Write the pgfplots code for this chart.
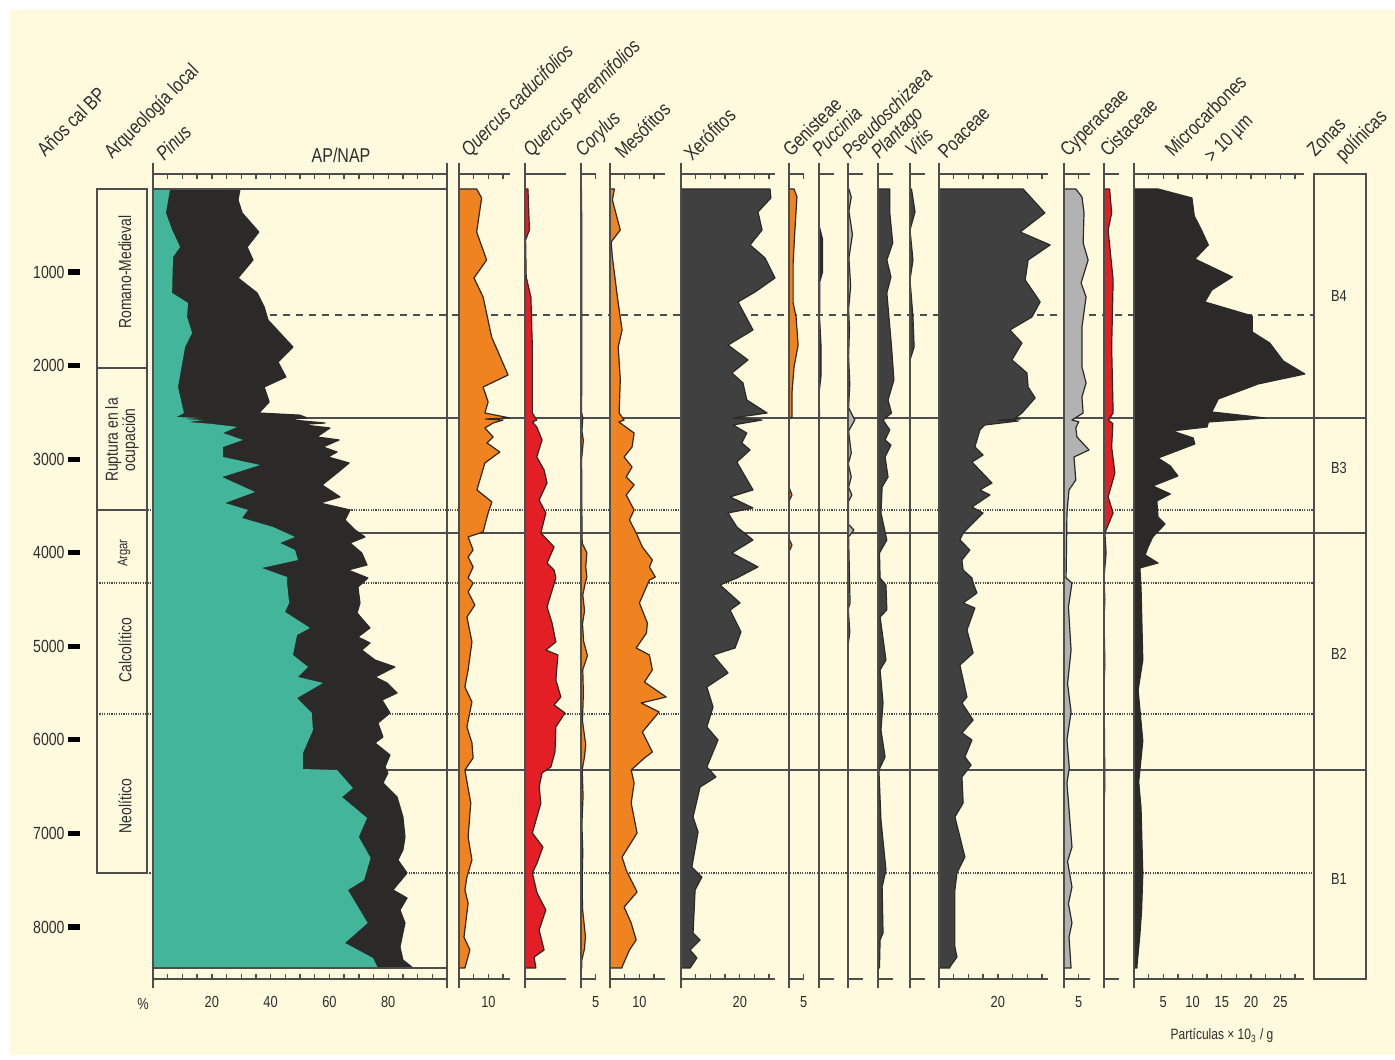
\documentclass[border=0pt]{standalone}
\usepackage{pgfplots}
\pgfplotsset{compat=1.18}
\usepackage{fontspec}
\setmainfont{Liberation Sans}[FakeStretch=0.8]
\newcommand\fs[1]{\fontsize{#1}{#1}\selectfont}
\definecolor{cream}{RGB}{255,250,221}
\definecolor{pgreen}{RGB}{67,181,154}
\definecolor{apblack}{RGB}{43,42,40}
\definecolor{porange}{RGB}{238,131,32}
\definecolor{pred}{RGB}{227,30,36}
\definecolor{dgrey}{RGB}{64,64,64}
\definecolor{lgrey}{RGB}{178,178,178}
\definecolor{lnc}{RGB}{77,77,77}
\definecolor{txt}{RGB}{45,45,45}
\pgfplotsset{
  panel/.style={
    scale only axis, height=402.5pt, anchor=north west,
    y dir=reverse, ymin=-47, ymax=8556, xmin=0,
    axis x line=box, axis y line=none,
    x axis line style={lnc, line width=0.8pt, -},
    tick align=inside, major tick length=0pt, minor tick length=2.5pt,
    tick style={lnc, line width=0.7pt},
    ytick=\empty, xtick=\empty,
    xticklabel pos=lower,
    ticklabel style={font=\fs{8}, text=txt},
    xticklabel style={anchor=center, yshift=-11.5pt},
    /pgf/number format/assume math mode=true,
    clip=false,
  },
  fl/.style={fill=#1, draw=apblack, line width=0.6pt, line join=round},
}
\begin{document}
\begin{tikzpicture}
\begin{scope}[x=0.5pt,y=-0.5pt]
\useasboundingbox (0,0) rectangle (1395,1059);
\fill[white] (0,0) rectangle (1395,1059);
\fill[cream] (10,10) rectangle (1395,1055);
% zone lines
\draw[lnc, line width=0.8pt] (153,418) -- (1366,418) (153,533) -- (1366,533) (153,770) -- (1366,770);
\draw[lnc, line width=0.8pt, dash pattern=on 3.5pt off 3pt] (153,315) -- (1314,315);
\draw[lnc, line width=0.7pt, dash pattern=on 0.6pt off 0.6pt] (97,510) -- (1314,510) (97,583) -- (1314,583) (97,714) -- (1314,714) (147,873) -- (1314,873);
\end{scope}

% ---------- age axis ----------
\begin{axis}[at={(40pt,-87pt)}, anchor=north west, scale only axis, width=1pt, height=402.5pt,
  y dir=reverse, ymin=-47, ymax=8556, xmin=0, xmax=1,
  hide x axis, axis y line*=left, y axis line style={draw=none},
  ytick={1000,2000,...,8000}, tick align=outside, major tick length=6pt,
  ytick style={line width=2.6pt, black},
  yticklabel style={font=\fs{8.8}, text=txt, xshift=1.8pt},
  /pgf/number format/1000 sep={}, /pgf/number format/assume math mode=true]
\addplot[draw=none] coordinates {(0,1000) (0,8000)};
\end{axis}

% ---------- Pinus + AP/NAP ----------
\begin{axis}[panel, at={(76.5pt,-87pt)}, width=147pt, xmax=100,
  xtick={20,40,60,80}, minor xtick={0,5,...,100}]
\addplot[fl=apblack] coordinates {(0,113) (29.6,113) (28.9,230) (30.3,369) (36,573) (32,733) (34,872) (28.9,1064) (35.4,1224) (37.8,1374) (39.1,1513) (47.6,1802) (42.5,1962) (45.2,2122) (37.8,2229) (39.5,2389) (36,2507) (50,2530) (52.4,2560) (45,2575) (58.5,2614) (50,2630) (60.2,2667) (55.7,2763) (63.3,2795) (57.8,2870) (62.6,2924) (59.5,2977) (66.7,3041) (62.6,3148) (57.5,3276) (63.6,3404) (56.8,3469) (67,3543) (65.3,3650) (68.7,3757) (72.1,3832) (67,3896) (71,4003) (72.8,4131) (66.3,4185) (73.1,4270) (69.7,4366) (70.4,4537) (69.4,4644) (73.8,4804) (69.7,4901) (73.8,4965) (71,5040) (75.5,5147) (82.3,5221) (75.5,5328) (79.6,5392) (83,5499) (77.9,5574) (80.6,5713) (76.5,5820) (78.2,5969) (75.5,6033) (80.6,6162) (78.9,6290) (79.9,6354) (78.2,6461) (83,6611) (85,6824) (85.7,7038) (85,7177) (83.3,7284) (86.4,7423) (81.6,7604) (86.4,7690) (84,7818) (85.7,7957) (84,8213) (85,8352) (88.4,8438) (0,8438)};
\addplot[fill=pgreen, draw=none] coordinates {(0,113) (5.8,113) (4.4,369) (6.5,551) (9.2,733) (6.8,840) (6.5,1224) (11.9,1331) (11.6,1481) (13.3,1652) (10.9,1802) (8.5,2229) (10.5,2507) (8,2550) (16,2560) (10,2571) (17,2582) (12,2603) (20,2624) (28.6,2656) (23.8,2721) (30.6,2795) (23.8,2870) (23.8,2977) (36.4,3063) (23.5,3191) (34.7,3351) (24.5,3469) (32.3,3543) (30.3,3629) (40.8,3725) (48.3,3832) (43.2,3896) (48.3,3971) (49.3,4078) (37,4163) (45.6,4260) (45.6,4324) (46.3,4537) (44.9,4633) (53.4,4804) (49,4879) (47.6,5093) (52.7,5221) (49.3,5328) (57.8,5392) (49,5553) (54,5713) (54.4,5895) (51,6141) (51,6312) (62.6,6322) (68,6515) (64.3,6611) (72.8,6835) (70,7038) (74,7262) (71.8,7498) (66.3,7604) (73,7957) (65.3,8171) (74.8,8331) (76.5,8438) (0,8438)};
\end{axis}

% ---------- Quercus caducifolios ----------
\begin{axis}[panel, at={(229.5pt,-87pt)}, width=25.5pt, xmax=17.35, xtick={10}, minor xtick={0,5,10,15}]
\addplot[fl=porange] coordinates {(0,113) (6,113) (7.7,209) (6,573) (9.4,872) (5.1,1064) (8.2,1267) (11.1,1695) (16.7,2101) (8.2,2229) (9.9,2389) (8.8,2507) (17.3,2560) (9,2571) (15,2582) (11.6,2614) (8.8,2667) (11.6,2763) (9.5,2827) (13.9,2924) (8.8,3041) (6.1,3329) (11.2,3458) (9.9,3575) (8.2,3778) (3.1,3832) (4.8,3971) (3.1,4046) (4.8,4152) (3.1,4270) (4.8,4324) (3.1,4420) (5.4,4559) (2.7,4687) (4.4,4954) (3.1,5253) (2,5435) (4.4,5595) (2.7,5862) (4.4,6033) (4.8,6194) (2,6322) (4,6675) (3.1,7038) (4.4,7284) (2.7,7466) (2,7604) (3.1,7744) (1.7,8107) (3.7,8246) (2,8438) (0,8438)};
\end{axis}

% ---------- Quercus perennifolios ----------
\begin{axis}[panel, at={(262.5pt,-87pt)}, width=20.5pt, xmax=13.95, minor xtick={0,5,10}]
\addplot[fl=pred] coordinates {(0,113) (1,113) (1.5,551) (0.2,658) (0.4,1053) (2,1267) (2.5,1802) (2.5,2507) (4,2582) (2.5,2603) (4,2656) (5.8,2795) (4,2977) (6.5,3116) (7.5,3255) (4.8,3437) (7.1,3575) (5.4,3789) (9.9,3939) (7.5,4110) (9.9,4185) (10.5,4270) (7.5,4580) (9.2,4751) (10.5,4954) (7.1,5040) (11.2,5093) (10.5,5360) (12.2,5542) (9.9,5627) (13.6,5713) (10.5,5862) (10.2,6130) (8.8,6290) (5.8,6354) (4.8,6504) (5.4,6675) (2.5,6996) (6.1,7145) (4.1,7316) (2.5,7423) (4.1,7636) (7.1,7818) (4.8,8032) (6.5,8246) (3.1,8321) (3.7,8438) (0,8438)};
\end{axis}

% ---------- Corylus ----------
\begin{axis}[panel, at={(290.5pt,-87pt)}, width=7.5pt, xmax=5.1, xtick={5}, minor xtick={0,5}]
\addplot[fl=porange] coordinates {(0,113) (0.2,113) (0.3,1500) (0.2,2500) (0.6,2560) (0.3,2700) (0.8,2800) (0.2,3000) (0.3,3600) (0.4,3900) (2,4000) (1.6,4150) (2,4260) (1.4,4330) (0.6,4450) (1.2,4620) (0.5,4760) (0.9,4950) (2.2,5100) (0.6,5250) (0.8,5500) (0.5,5800) (1.6,6050) (1.2,6180) (0.4,6320) (0.7,6600) (0.3,6900) (0.6,7200) (0.4,7500) (0.5,7800) (1.5,8100) (1.2,8230) (0.3,8350) (0.3,8438) (0,8438)};
\end{axis}

% ---------- Mesofitos ----------
\begin{axis}[panel, at={(305pt,-87pt)}, width=27.5pt, xmax=18.7, xtick={10}, minor xtick={0,5,10,15}]
\addplot[fl=porange] coordinates {(0,113) (1.5,113) (0.8,230) (3.5,551) (0.4,679) (0.8,840) (2.5,1267) (4.1,1620) (2.8,1802) (3.5,2154) (3.1,2507) (4.8,2582) (3,2603) (8.2,2721) (7.5,2870) (4.8,2977) (7.5,3084) (5.5,3191) (8.2,3276) (5.5,3383) (8.2,3543) (6.6,3650) (8.9,3789) (11,3939) (14.4,4078) (13.4,4152) (15.4,4260) (13.4,4292) (10,4537) (12.7,4751) (12.4,4858) (8.9,5018) (13.4,5093) (14.4,5253) (11.7,5382) (19.1,5542) (10.6,5606) (16.7,5702) (11,5916) (14.4,6130) (11.7,6194) (7.2,6322) (8.2,6461) (7.2,6675) (9.2,6996) (4.1,7252) (5.5,7391) (9.2,7626) (4.8,7786) (7.2,7957) (8.9,8139) (6.6,8246) (4.1,8427) (4.1,8438) (0,8438)};
\end{axis}

% ---------- Xerofitos ----------
\begin{axis}[panel, at={(340.5pt,-87pt)}, width=47pt, xmax=32, xtick={20}, minor xtick={0,5,...,30}]
\addplot[fl=dgrey] coordinates {(0,113) (30.3,113) (30.6,209) (26.2,358) (27.6,551) (23.5,711) (28.6,850) (32,1064) (25.2,1214) (19.4,1320) (24.5,1620) (16,1781) (22.8,1940) (17.3,2079) (21.1,2186) (22.4,2368) (29.3,2507) (17.7,2560) (27.6,2582) (17.7,2635) (22.4,2721) (20.7,2827) (23.5,2902) (19,3031) (24.5,3329) (16.7,3404) (24.5,3522) (16,3575) (19,3725) (24.5,3864) (17.3,4003) (26.2,4152) (19,4270) (13.3,4345) (20.1,4537) (16.7,4612) (20.4,4847) (18.4,5018) (10.9,5093) (16,5285) (8.8,5435) (10.9,5649) (8.8,5862) (12.6,6001) (8.8,6290) (11.9,6397) (6.5,6504) (4.1,6824) (5.8,6985) (3.7,7359) (7.1,7466) (4.8,7604) (4.1,8064) (6.5,8139) (3.1,8246) (5.4,8331) (3.1,8438) (0,8438)};
\end{axis}

% ---------- Genisteae ----------
\begin{axis}[panel, at={(394.5pt,-87pt)}, width=7.5pt, xmax=5.1, xtick={5}, minor xtick={0,5}]
\addplot[fl=porange] coordinates {(0,113) (1.7,113) (2.7,198) (2,551) (1.4,904) (1.4,1331) (2.4,1481) (3.1,1781) (1.7,2015) (1,2293) (1,2550) (0,2571) (0,3300) (1,3383) (0,3450) (0,3850) (1,3920) (0,3990) (0,8438)};
\end{axis}

% ---------- Puccinia ----------
\begin{axis}[panel, at={(409.5pt,-87pt)}, width=7.5pt, xmax=5.1, minor xtick={0,5}]
\addplot[fl=apblack] coordinates {(0,113) (0,500) (1.2,650) (1.2,1000) (0.3,1100) (0.2,1500) (0.7,1800) (0.7,2100) (0,2300) (0.2,2560) (0,2600) (0,8438)};
\end{axis}

% ---------- Pseudoschizaea ----------
\begin{axis}[panel, at={(424pt,-87pt)}, width=7.5pt, xmax=5.1, minor xtick={0,5}]
\addplot[fl=lgrey] coordinates {(0,113) (0.3,113) (1.1,200) (0.3,350) (1.5,600) (0.3,850) (0.9,1150) (0.2,1400) (0.5,1600) (0.2,1900) (0.6,2200) (0.2,2450) (2.3,2582) (0.2,2700) (1.1,2935) (0.1,3050) (1.1,3191) (0.2,3300) (1.3,3383) (0.2,3450) (0.2,3700) (2,3757) (0.2,3830) (0.7,4537) (0.1,4600) (0.6,4847) (0,5000) (0,8438)};
\end{axis}

% ---------- Plantago ----------
\begin{axis}[panel, at={(439pt,-87pt)}, width=7.5pt, xmax=5.1, minor xtick={0,5}]
\addplot[fl=dgrey] coordinates {(0,113) (4,113) (4,369) (5,690) (3,872) (4.4,1053) (3,1224) (4.6,1802) (5.4,2154) (3.4,2368) (4.6,2507) (1.7,2582) (4,2688) (2.4,2795) (4.4,2849) (2.4,2977) (3.4,3191) (1.4,3298) (1,3575) (3,3864) (0.5,4003) (0.7,4270) (2.7,4345) (3,4612) (0.7,4687) (2.7,5147) (0.7,5253) (1.7,5606) (1,5895) (2.4,6183) (0.3,6322) (1,6856) (2.7,7391) (1.4,7572) (1.7,8064) (0.7,8139) (0.5,8438) (0,8438)};
\end{axis}

% ---------- Vitis ----------
\begin{axis}[panel, at={(455pt,-87pt)}, width=7.5pt, xmax=5.1, minor xtick={0,5}]
\addplot[fl=dgrey] coordinates {(0,113) (0.5,113) (1.7,358) (0,551) (1,872) (0,1085) (1,1481) (1.4,1802) (0,1940) (0,8438)};
\end{axis}

% ---------- Poaceae ----------
\begin{axis}[panel, at={(469.5pt,-87pt)}, width=54.5pt, xmax=37.07, xtick={20}, minor xtick={0,5,...,35}]
\addplot[fl=dgrey] coordinates {(0,113) (28.6,113) (36,369) (27.6,573) (37.8,711) (30.3,872) (29.3,1085) (34.4,1320) (31.6,1481) (24.1,1620) (28.2,1759) (24.8,1940) (29.9,2079) (30.3,2229) (32.7,2346) (28.2,2507) (26,2560) (27.6,2571) (20,2582) (27,2592) (15.6,2635) (13.9,2688) (12.2,2870) (15,2956) (11.2,3031) (18,3255) (13.9,3329) (17.3,3383) (11.2,3512) (15,3575) (8.2,3789) (7.1,3864) (10.5,3971) (7.8,4078) (8.2,4185) (11.2,4270) (11.6,4324) (12.9,4431) (8.2,4537) (12.2,4591) (9.5,4826) (11.6,5072) (7.1,5200) (9.5,5542) (7.8,5606) (11.6,5788) (7.8,5926) (11.2,6001) (8.8,6183) (10.9,6269) (7.8,6397) (8.2,6675) (5.4,6824) (8.8,7252) (6.1,7423) (5.4,7604) (5.4,8213) (6.1,8321) (3.7,8427) (3.7,8438) (0,8438)};
\end{axis}

% ---------- Cyperaceae ----------
\begin{axis}[panel, at={(532pt,-87pt)}, width=13pt, xmax=8.84, xtick={5}, minor xtick={0,5}]
\addplot[fl=lgrey] coordinates {(0,113) (4,113) (6.1,198) (6.8,369) (6.5,690) (8.2,872) (5.8,1117) (7.5,1267) (6.1,1588) (6.1,2015) (7.5,2186) (6.1,2336) (6.5,2507) (2.7,2582) (5,2600) (4,2667) (4.4,2763) (8.5,2902) (3.4,2977) (4,3223) (1.7,3329) (1,3575) (0.7,4270) (2.7,4324) (1.5,4580) (2.4,5040) (1.2,5400) (2.4,5702) (1,6000) (1.8,6300) (1,6461) (2.7,7145) (1.2,7300) (2.7,7572) (1.5,7750) (2.7,7957) (1.7,8107) (2.4,8438) (0,8438)};
\end{axis}

% ---------- Cistaceae ----------
\begin{axis}[panel, at={(552pt,-87pt)}, width=7.5pt, xmax=5.1, minor xtick={0,5}]
\addplot[fl=pred] coordinates {(0,113) (1.9,113) (2.6,369) (1.4,551) (3.1,1085) (2.6,1802) (3.1,2507) (1.5,2582) (3,2620) (2.6,2870) (3.7,3148) (1.4,3404) (3.1,3575) (0.3,3789) (0.7,4003) (0,4270) (0.3,4500) (0,4700) (0.3,5200) (0,5400) (0.3,6500) (0,6700) (0,8438)};
\end{axis}

% ---------- Microcarbones ----------
\begin{axis}[panel, at={(567pt,-87pt)}, width=85pt, xmax=29.06, xtick={5,10,15,20,25}, minor xtick={0,2.5,...,27.5}]
\addplot[fl=apblack] coordinates {(0,113) (4.1,113) (9.9,209) (10.3,401) (11.6,562) (12.7,711) (10.4,861) (16.8,1053) (13.3,1192) (12.1,1320) (20.2,1470) (20.2,1641) (23.2,1759) (25.5,1951) (29.2,2090) (21.2,2197) (14.4,2357) (13.3,2496) (22.4,2560) (12.7,2603) (12.5,2656) (6.5,2699) (10.1,2774) (10.4,2838) (4.1,2988) (6.2,3073) (7.5,3180) (3.2,3287) (6.2,3372) (3.9,3447) (4.1,3618) (5.3,3693) (3.2,3832) (2.4,3939) (1.9,4024) (4.1,4110) (1,4163) (1.2,4377) (1.5,5147) (0.7,5467) (1.5,6012) (0.8,6450) (1.2,6728) (1.5,7433) (1.3,7818) (1,8085) (0.5,8416) (0.5,8438) (0,8438)};
\end{axis}

\begin{scope}[x=0.5pt,y=-0.5pt]
% panel vertical lines
\foreach \xx in {153,447,459,525,581,610,681,789,819,848,878,910,939,1064,1104,1134}
  \draw[lnc, line width=0.8pt] (\xx,163) -- (\xx,988);
\draw[lnc, line width=0.8pt] (153,189) -- (447,189) (153,968) -- (447,968);
% archaeology box
\draw[lnc, line width=0.8pt] (97,189) rectangle (147,873);
\draw[lnc, line width=0.8pt] (97,368) -- (147,368) (97,510) -- (147,510);
% zones box
\draw[lnc, line width=0.8pt] (1314,174) rectangle (1366,979);
% archaeology labels
\begin{scope}[every node/.style={text=txt, inner sep=0pt}]
\node[rotate=90, font=\fs{8.7}] at (125,272) {Romano-Medieval};
\node[rotate=90, font=\fs{8.7}, align=center] at (122,440) {Ruptura en la\\ocupación};
\node[rotate=90, font=\fs{7}] at (124,553) {Argar};
\node[rotate=90, font=\fs{8.7}] at (125,650) {Calcolítico};
\node[rotate=90, font=\fs{8.7}] at (125,806) {Neolítico};
% zones
\node[font=\fs{8}] at (1339,296) {B4};
\node[font=\fs{8}] at (1339,468) {B3};
\node[font=\fs{8}] at (1339,654) {B2};
\node[font=\fs{8}] at (1339,879) {B1};
% top labels
\begin{scope}[every node/.append style={rotate=45, anchor=base west, font=\fs{10}}]
\node at (45,158) {Años cal BP};
\node at (112,160) {Arqueología local};
\node at (164,162) {\itshape Pinus};
\node at (469,158) {\itshape Quercus caducifolios};
\node at (531,158) {\itshape Quercus perennifolios};
\node at (583,158) {\itshape Corylus};
\node at (623,160) {Mesófitos};
\node at (692,162) {Xerófitos};
\node at (791,158) {Genisteae};
\node at (820,158) {\itshape Puccinia};
\node at (850,160) {\itshape Pseudoschizaea};
\node at (879,160) {\itshape Plantago};
\node at (913,158) {\itshape Vitis};
\node at (946,160) {Poaceae};
\node at (1068,158) {Cyperaceae};
\node at (1108,158) {Cistaceae};
\node at (1173,158) {Microcarbones};
\node at (1212,164) {> 10 µm};
\node at (1315,158) {Zonas};
\node at (1343,163) {polínicas};
\end{scope}
\node[anchor=base, font=\fs{10}] at (341,163) {AP/NAP};
\node[font=\fs{8}] at (143,1004) {\%};
\node[font=\fs{7.5}] at (1222,1036) {Partículas × 10\textsubscript{3} / g};
\end{scope}
\end{scope}
\end{tikzpicture}
\end{document}
